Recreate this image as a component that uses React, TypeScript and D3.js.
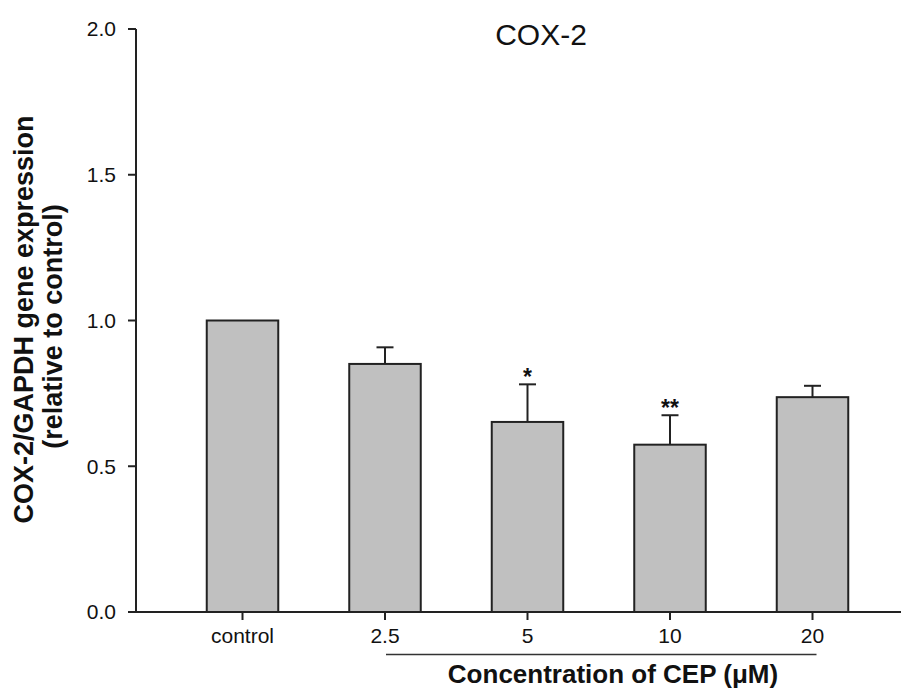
import React from "react";
import * as d3 from "d3";

// COX-2 expression relative to control, by CEP concentration
const categories = ["control", "2.5", "5", "10", "20"];
const means = [1.0, 0.851, 0.652, 0.574, 0.737];
const errors = [0, 0.057, 0.129, 0.101, 0.039];
const significance = ["", "", "*", "**", ""];
const yTicks = [0, 0.5, 1.0, 1.5, 2.0];

const W = 912;
const H = 691;
const FONT = "Arial, 'Liberation Sans', Helvetica, sans-serif";
const INK = "#222";

export default function App() {
  const axisX = 136;
  const y = d3.scaleLinear().domain([0, 2]).range([612, 29]);
  const x = d3.scalePoint<string>().domain(categories).range([242.5, 812.5]);
  const barW = 71.5;
  const capHalf = 8.5;
  const y0 = y(0);

  return (
    <div style={{ position: "fixed", left: 0, top: 0 }}>
      <svg width={W} height={H} style={{ display: "block", background: "#fff" }}>
        {/* bars */}
        {categories.map((c, i) => (
          <rect
            key={c}
            x={x(c)! - barW / 2}
            y={y(means[i])}
            width={barW}
            height={y0 - y(means[i])}
            fill="#c0c0c0"
            stroke={INK}
            strokeWidth={2}
          />
        ))}
        {/* upper error bars */}
        {categories.map((c, i) =>
          errors[i] > 0 ? (
            <g key={"e" + c} stroke={INK} strokeWidth={2}>
              <line x1={x(c)} x2={x(c)} y1={y(means[i])} y2={y(means[i] + errors[i])} />
              <line
                x1={x(c)! - capHalf}
                x2={x(c)! + capHalf}
                y1={y(means[i] + errors[i])}
                y2={y(means[i] + errors[i])}
              />
            </g>
          ) : null
        )}
        {/* significance marks */}
        {categories.map((c, i) =>
          significance[i] ? (
            <text
              key={"s" + c}
              x={x(c)}
              y={y(means[i] + errors[i]) + 0.5}
              textAnchor="middle"
              fontFamily={FONT}
              fontSize={23}
              fontWeight="bold"
              fill="#111"
            >
              {significance[i]}
            </text>
          ) : null
        )}
        {/* y axis */}
        <line x1={axisX} x2={axisX} y1={y(2)} y2={y0} stroke={INK} strokeWidth={2} />
        {yTicks.map((t) => (
          <g key={"yt" + t}>
            <line x1={axisX - 8} x2={axisX} y1={y(t)} y2={y(t)} stroke={INK} strokeWidth={2} />
            <text
              x={116}
              y={y(t)}
              dy="0.35em"
              textAnchor="end"
              fontFamily={FONT}
              fontSize={21}
              fill="#111"
            >
              {t.toFixed(1)}
            </text>
          </g>
        ))}
        {/* x axis */}
        <line x1={axisX - 8} x2={901} y1={y0} y2={y0} stroke={INK} strokeWidth={2} />
        {categories.map((c) => (
          <g key={"xt" + c}>
            <line x1={x(c)} x2={x(c)} y1={y0} y2={y0 + 8} stroke={INK} strokeWidth={2} />
            <text x={x(c)} y={643} textAnchor="middle" fontFamily={FONT} fontSize={21} fill="#111">
              {c}
            </text>
          </g>
        ))}
        {/* bracket grouping the CEP concentrations */}
        <line
          x1={x("2.5")! + 1}
          x2={x("20")! + 4}
          y1={654.5}
          y2={654.5}
          stroke="#333"
          strokeWidth={1.5}
        />
        <text x={613} y={683} textAnchor="middle" fontFamily={FONT} fontSize={26} fontWeight="bold" fill="#111">
          Concentration of CEP (μM)
        </text>
        {/* y axis title */}
        <text
          transform="translate(33,319.5) rotate(-90)"
          textAnchor="middle"
          fontFamily={FONT}
          fontSize={27}
          fontWeight="bold"
          fill="#111"
        >
          COX-2/GAPDH gene expression
        </text>
        <text
          transform="translate(62,326.5) rotate(-90)"
          textAnchor="middle"
          fontFamily={FONT}
          fontSize={27}
          fontWeight="bold"
          fill="#111"
        >
          (relative to control)
        </text>
        {/* chart title */}
        <text x={541} y={45} textAnchor="middle" fontFamily={FONT} fontSize={30} fill="#111">
          COX-2
        </text>
      </svg>
    </div>
  );
}
